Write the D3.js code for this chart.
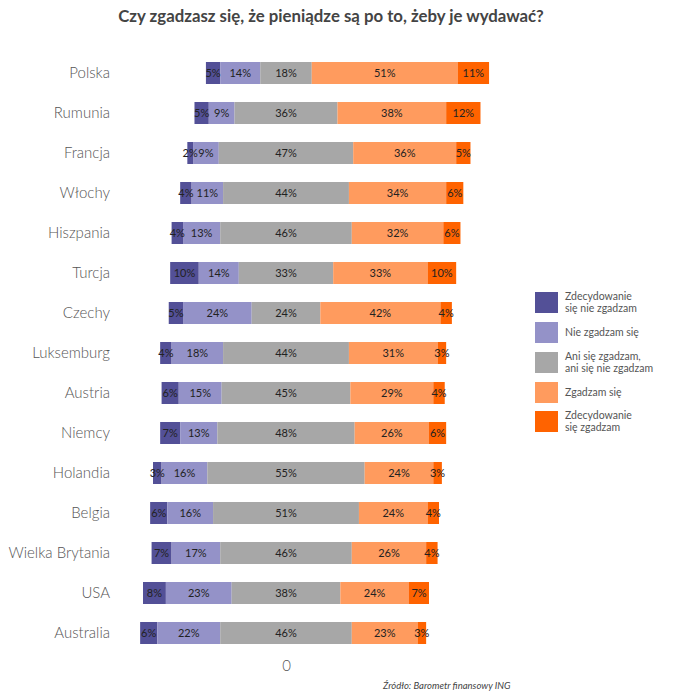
<!DOCTYPE html>
<html><head><meta charset="utf-8">
<script src="https://cdn.jsdelivr.net/npm/d3@7"></script>
<style>body{margin:0;background:#fff}svg{display:block}</style>
</head><body>
<script>
const categories = ["Polska","Rumunia","Francja","Włochy","Hiszpania","Turcja","Czechy","Luksemburg","Austria","Niemcy","Holandia","Belgia","Wielka Brytania","USA","Australia"];
const stronglyDisagree = [5,5,2,4,4,10,5,4,6,7,3,6,7,8,6];
const disagree = [14,9,9,11,13,14,24,18,15,13,16,16,17,23,22];
const neutral = [18,36,47,44,46,33,24,44,45,48,55,51,46,38,46];
const agree = [51,38,36,34,32,33,42,31,29,26,24,24,26,24,23];
const stronglyAgree = [11,12,5,6,6,10,4,3,4,6,3,4,4,7,3];
const seriesNames = ["Zdecydowanie\nsię nie zgadzam","Nie zgadzam się","Ani się zgadzam,\nani się nie zgadzam","Zgadzam się","Zdecydowanie\nsię zgadzam"];
const colors = ["#535097","#9492c8","#a7a7a7","#ff9b5e","#ff6300"];
const title = "Czy zgadzasz się, że pieniądze są po to, żeby je wydawać?";
const source = "Źródło: Barometr finansowy ING";

const W = 688, H = 700;
const svg = d3.select("body").append("svg").attr("width", W).attr("height", H);
const font = "Lato, 'Open Sans', sans-serif";

const x = d3.scaleLinear().domain([0, 100]).range([286, 572]);
const y = d3.scaleBand().domain(categories).range([53, 653]).paddingInner(0.45).paddingOuter(0.225);

const series = [stronglyDisagree, disagree, neutral, agree, stronglyAgree];

const segs = [];
categories.forEach((c, i) => {
  const vals = series.map(s => s[i]);
  let start = -(vals[0] + vals[1] + vals[2] / 2);
  vals.forEach((v, k) => {
    segs.push({cat: c, k, v, x0: start, x1: start + v});
    start += v;
  });
});

svg.append("text").attr("x", 331).attr("y", 22).attr("text-anchor", "middle")
  .attr("font-family", font).attr("font-weight", "bold").attr("font-size", 16.8)
  .attr("fill", "#444").text(title);

svg.append("g").selectAll("rect").data(segs).join("rect")
  .attr("x", d => x(d.x0)).attr("width", d => x(d.x1) - x(d.x0))
  .attr("y", d => y(d.cat)).attr("height", y.bandwidth())
  .attr("fill", d => colors[d.k]);

svg.append("g").selectAll("text").data(segs).join("text")
  .attr("x", d => (x(d.x0) + x(d.x1)) / 2).attr("y", d => y(d.cat) + y.bandwidth() / 2)
  .attr("dy", "0.36em").attr("text-anchor", "middle")
  .attr("font-family", font).attr("font-size", 11).attr("fill", "#222")
  .text(d => d.v + "%");

const yAxis = d3.axisLeft(y).tickSize(0).tickPadding(0);
const ga = svg.append("g").attr("transform", "translate(110,0)").call(yAxis);
ga.select(".domain").remove();
ga.selectAll("text").attr("font-family", font).attr("font-size", 15).attr("font-weight", 300).attr("fill", "#555");

const xAxis = d3.axisBottom(x).tickValues([0]).tickSize(0).tickPadding(0);
const gx = svg.append("g").attr("transform", "translate(0,660)").call(xAxis);
gx.select(".domain").remove();
gx.selectAll("text").attr("font-family", font).attr("font-size", 15).attr("font-weight", 300).attr("fill", "#555");

const legY = [292, 322, 352, 382, 411];
const lg = svg.append("g");
seriesNames.forEach((n, k) => {
  lg.append("rect").attr("x", 535).attr("y", legY[k]).attr("width", 23).attr("height", 21).attr("fill", colors[k]);
  const lines = n.split("\n");
  const t = lg.append("text").attr("font-family", font).attr("font-size", 10.5).attr("fill", "#555");
  const cy = legY[k] + 10.5;
  lines.forEach((l, j) => {
    t.append("tspan").attr("x", 565).attr("y", cy + (j - (lines.length - 1) / 2) * 11.5).attr("dy", "0.35em").text(l);
  });
});

svg.append("text").attr("x", 383).attr("y", 689).attr("font-family", font)
  .attr("font-style", "italic").attr("font-size", 9.5).attr("fill", "#444").text(source);
</script>
</body></html>
